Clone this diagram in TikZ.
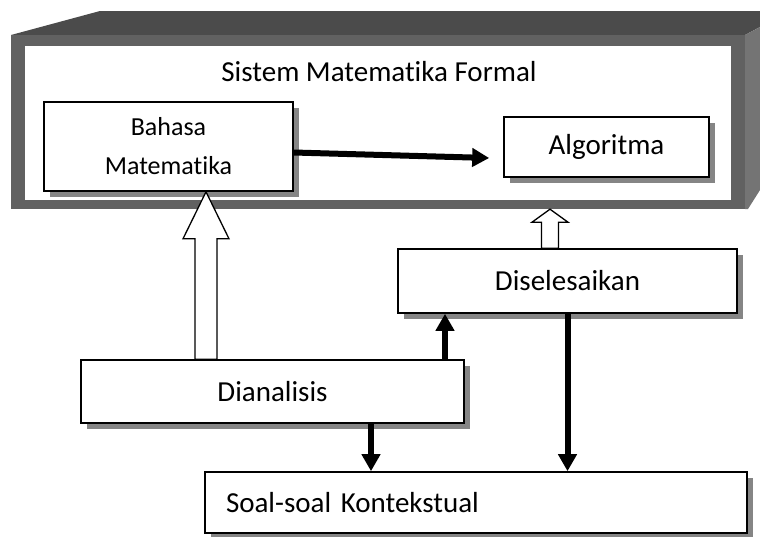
\documentclass[tikz,border=0pt]{standalone}
\usepackage{fontspec}
\setmainfont{Carlito}[Ligatures=NoCommon]
\usetikzlibrary{arrows.meta,shadows,calc}
\definecolor{topgray}{HTML}{4B4B4B}
\definecolor{frontgray}{HTML}{616161}
\definecolor{sidegray}{HTML}{747474}
\definecolor{shadowgray}{HTML}{858585}
\tikzset{
  box/.style={draw, line width=1.6pt, fill=white, inner sep=0pt, font=\fontsize{29}{35}\selectfont,
    drop shadow={shadow xshift=6pt, shadow yshift=-6pt, fill=shadowgray, opacity=1}},
  heavy/.style={line width=6pt, -{Triangle[length=17pt,width=18pt]}},
  hollow/.style={draw, line width=1.3pt, fill=white, line join=miter}
}
\newcommand{\hollowarrow}[5]{%
  \draw[hollow] let \p1=#1, \p2=#2 in
    (\x1-#3,\y1) -- (\x1-#3,\y2-#5) -- (\x1-#4,\y2-#5) -- (\x1,\y2)
    -- (\x1+#4,\y2-#5) -- (\x1+#3,\y2-#5) -- (\x1+#3,\y1) -- cycle;
}
\begin{document}
\begin{tikzpicture}[x=1pt,y=-1pt]
\useasboundingbox (0,0) rectangle (760,536);
% frame
\fill[topgray] (11,35) -- (100,11) -- (760,11) -- (760,27) -- (745,35) -- cycle;
\fill[sidegray] (745,35) -- (760,27) -- (760,190) -- (748,209) -- (745,209) -- cycle;
\path (378,122) node[fill=frontgray, inner sep=0pt, minimum width=734pt, minimum height=174pt] (sistem) {};
\fill[white] ($(sistem.south west)+(14,-9)$) rectangle ($(sistem.north east)+(-14,11)$);
\path (379,72) node[font=\fontsize{29}{35}\selectfont] (judul) {Sistem Matematika Formal};
% boxes
\path (168.5,146.5) node[box, minimum width=249pt, minimum height=89pt, align=center, font=\fontsize{26}{39}\selectfont] (bahasa) {Bahasa\\Matematika};
\path (606.5,147) node[box, minimum width=205pt, minimum height=60pt] (algoritma) {Algoritma};
\path (567.5,281) node[box, minimum width=339pt, minimum height=64pt] (diselesaikan) {Diselesaikan};
\path (272.5,391.5) node[box, minimum width=383pt, minimum height=63pt] (dianalisis) {Dianalisis};
\path (476,502.5) node[box, text width=500pt, inner xsep=21pt, minimum height=61pt, align=left] (soal) {Soal-soal Kontekstual};
% arrows
\coordinate (bigup) at (206,0);
\coordinate (smallup) at (550,0);
\coordinate (blackup) at (445,0);
\coordinate (blackdown) at (371,0);
\draw[heavy] ($(bahasa.east)+(0,6)$) -- ($(algoritma.west)+(-14,11)$);
\draw[heavy] (blackup |- dianalisis.north) -- (blackup |- diselesaikan.south);
\draw[heavy] (blackdown |- dianalisis.south) -- (blackdown |- soal.north);
\draw[heavy] (diselesaikan.south) -- (diselesaikan.south |- soal.north);
\hollowarrow{(bigup |- dianalisis.north)}{(bigup |- bahasa.south)}{11pt}{23pt}{47pt}
\hollowarrow{(smallup |- diselesaikan.north)}{(smallup |- sistem.south)}{8.5pt}{18pt}{13pt}
\end{tikzpicture}
\end{document}
